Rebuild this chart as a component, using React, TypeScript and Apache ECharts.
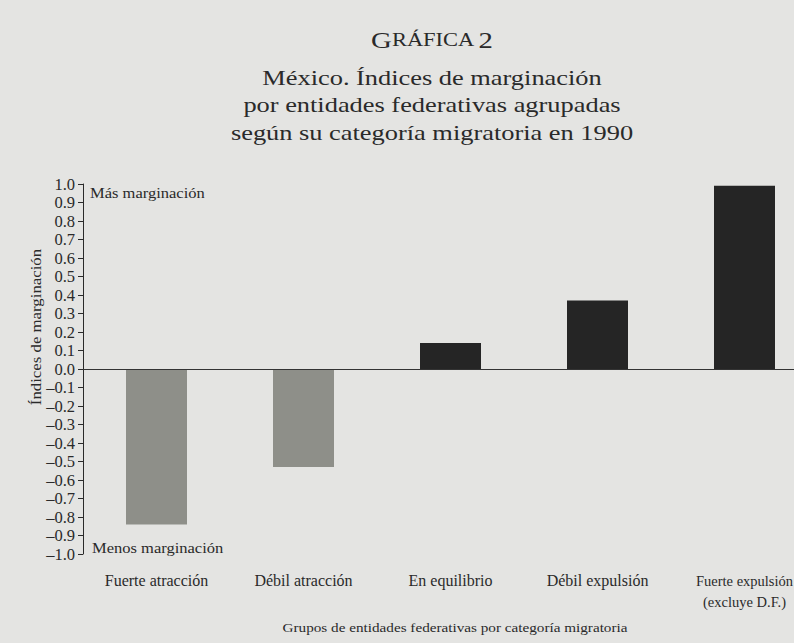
import React, { useEffect, useRef } from "react";
import * as echarts from "echarts";

const categories = [
  "Fuerte atracción",
  "Débil atracción",
  "En equilibrio",
  "Débil expulsión",
  "Fuerte expulsión\n(excluye D.F.)",
];
const values = [-0.84, -0.53, 0.14, 0.37, 0.99];
const barColors = ["#8e8f89", "#8e8f89", "#252525", "#252525", "#252525"];
const titleLines = [
  "México. Índices de marginación",
  "por entidades federativas agrupadas",
  "según su categoría migratoria en 1990",
];
const yAxisTitle = "Índices de marginación";
const xAxisTitle = "Grupos de entidades federativas por categoría migratoria";
const topNote = "Más marginación";
const bottomNote = "Menos marginación";

const FONT = "'Liberation Serif', 'Times New Roman', serif";
const INK = "#2a2a2a";
const SX = 1.18;

export default function App() {
  const ref = useRef<HTMLDivElement>(null);
  useEffect(() => {
    if (!ref.current) return;
    const chart = echarts.init(ref.current, undefined, { renderer: "svg" });
    chart.setOption({
      animation: false,
      backgroundColor: "#e4e4e2",
      textStyle: { fontFamily: FONT, color: INK },
      grid: { left: 83, top: 184, width: 735, height: 370, containLabel: false },
      xAxis: {
        type: "category",
        data: categories.map((c, i) =>
          i === categories.length - 1
            ? { value: c, textStyle: { fontSize: 14.5 } }
            : c
        ),
        position: "bottom",
        axisLine: { show: false, onZero: false },
        axisTick: { show: false },
        axisLabel: {
          interval: 0,
          margin: 16,
          fontFamily: FONT,
          fontSize: 16,
          color: INK,
          lineHeight: 21,
        },
      },
      yAxis: {
        type: "value",
        min: -1,
        max: 1,
        interval: 0.1,
        splitLine: { show: false },
        axisLine: { show: true, lineStyle: { color: INK, width: 1 } },
        axisTick: { show: true, inside: false, length: 5, lineStyle: { color: INK } },
        axisLabel: {
          margin: 8,
          fontFamily: FONT,
          fontSize: 16.5,
          color: INK,
          formatter: (v: number) => (Math.round(v * 10) / 10).toFixed(1).replace("-", "–"),
        },
      },
      graphic: [
        {
          type: "text",
          x: 432,
          y: 40,
          scaleX: 1.25,
          style: {
            text: "{a|G}{b|RÁFICA} {a|2}",
            fill: INK,
            align: "center",
            verticalAlign: "middle",
            rich: {
              a: { fontFamily: FONT, fontSize: 23, fill: INK },
              b: { fontFamily: FONT, fontSize: 18, fill: INK },
            },
          },
        },
        ...titleLines.map((t, i) => ({
          type: "text",
          x: 432,
          y: 77 + i * 27.5,
          scaleX: 1.2,
          style: {
            text: t,
            font: `22px ${FONT}`,
            fill: INK,
            align: "center",
            verticalAlign: "middle",
          },
        })),
        {
          type: "text",
          x: 36,
          y: 327,
          rotation: Math.PI / 2,
          scaleX: 1.2,
          style: {
            text: yAxisTitle,
            font: `14px ${FONT}`,
            fill: INK,
            align: "center",
            verticalAlign: "middle",
          },
        },
        {
          type: "text",
          x: 90,
          y: 193,
          scaleX: SX,
          style: { text: topNote, font: `14px ${FONT}`, fill: INK, align: "left", verticalAlign: "middle" },
        },
        {
          type: "text",
          x: 92,
          y: 548,
          scaleX: SX,
          style: { text: bottomNote, font: `14px ${FONT}`, fill: INK, align: "left", verticalAlign: "middle" },
        },
        {
          type: "text",
          x: 455,
          y: 627,
          scaleX: 1.17,
          style: { text: xAxisTitle, font: `13px ${FONT}`, fill: INK, align: "center", verticalAlign: "middle" },
        },
      ],
      series: [
        {
          type: "bar",
          barWidth: 61,
          data: values.map((v, i) => ({ value: v, itemStyle: { color: barColors[i] } })),
          markLine: {
            silent: true,
            symbol: "none",
            label: { show: false },
            lineStyle: { color: "#333", width: 1.2, type: "solid" },
            data: [{ yAxis: 0 }],
          },
        },
      ],
    });
    return () => chart.dispose();
  }, []);
  return (
    <div
      style={{ position: "absolute", left: 0, top: 0, width: 794, height: 643, overflow: "hidden" }}
    >
      <div ref={ref} style={{ width: 840, height: 643 }} />
    </div>
  );
}
